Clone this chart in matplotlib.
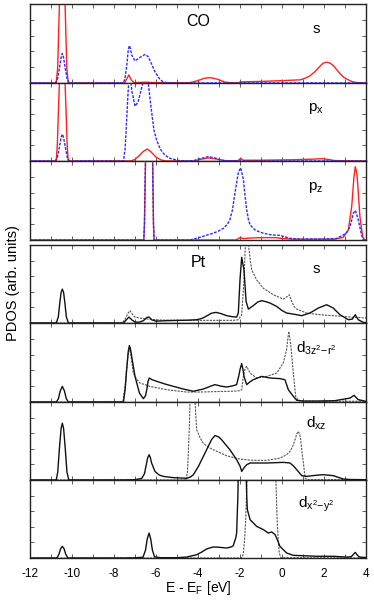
import numpy as np
import matplotlib
matplotlib.use("Agg")
import matplotlib.pyplot as plt
from matplotlib.ticker import FixedLocator

plt.rcParams['font.family'] = ['Liberation Sans', 'DejaVu Sans']
plt.rcParams['mathtext.fontset'] = 'custom'
plt.rcParams['mathtext.rm'] = 'Liberation Sans'
plt.rcParams['mathtext.it'] = 'Liberation Sans'

# ---------------- data (energy in eV, PDOS in arb. units) ----------------
co_s_red = [(-12,0),(-10.75,0),(-10.68,1),(-10.63,3.5),(-10.60,5),(-10.55,9),(-10.47,12),(-10.38,9),(-10.33,5),
            (-10.30,3.5),(-10.25,1),(-10.18,0),(-7.5,0),(-7.42,0.2),(-7.29,0.51),(-7.18,0.2),(-7.05,0.02),(-6.5,0.05),
            (-6.0,0.02),(-4.4,0.02),(-4.0,0.15),(-3.7,0.3),(-3.43,0.34),(-3.1,0.25),(-2.7,0.05),(-2.3,0.01),(-2.05,0.01),
            (-2.0,0.07),(-1.0,0.1),(0.0,0.15),(0.86,0.2),(1.1,0.3),(1.33,0.45),(1.55,0.7),(1.73,0.95),(1.95,1.25),
            (2.13,1.32),(2.3,1.25),(2.44,1.1),(2.6,0.85),(2.76,0.6),(2.95,0.35),(3.16,0.2),(3.35,0.08),(3.56,0.03),(4,0)]
co_s_blue = [(-12,0),(-10.8,0),(-10.7,0.2),(-10.6,0.9),(-10.52,1.6),(-10.46,1.87),(-10.40,1.6),(-10.32,0.9),(-10.22,0.2),
             (-10.12,0),(-7.55,0),(-7.48,0.3),(-7.40,1.0),(-7.32,2.1),(-7.27,2.36),(-7.22,2.2),(-7.16,1.77),(-7.0,1.40),
             (-6.76,1.62),(-6.52,1.81),(-6.37,1.66),(-6.21,1.2),(-6.05,0.7),(-5.81,0.23),(-5.65,0.06),(-5.4,0),(4,0)]
co_px_red = [(-12,0),(-10.75,0),(-10.70,1),(-10.64,3.5),(-10.60,5),(-10.55,9),(-10.47,12),(-10.38,9),(-10.33,5),
             (-10.29,3.5),(-10.23,1),(-10.18,0),(-7.2,0),(-7.0,0.1),(-6.8,0.35),(-6.6,0.62),(-6.41,0.77),(-6.25,0.6),
             (-6.0,0.25),(-5.75,0.06),(-5.5,0),(-4.2,0),(-3.9,0.1),(-3.5,0.2),(-3.1,0.12),(-2.7,0.02),(-2.1,0.02),
             (-1.97,0.17),(-1.85,0.05),(-1.0,0.05),(0.5,0.08),(1.5,0.12),(1.9,0.15),(2.2,0.1),(2.5,0.03),(3.0,0.01),(4,0)]
co_px_blue = [(-12,0),(-10.8,0),(-10.7,0.2),(-10.6,0.9),(-10.52,1.5),(-10.46,1.72),(-10.40,1.5),(-10.32,0.9),(-10.22,0.2),
              (-10.12,0),(-7.55,0),(-7.47,0.8),(-7.43,1.77),(-7.35,3.9),(-7.29,5.3),(-7.24,5.5),(-7.15,4.5),(-7.0,3.51),
              (-6.85,3.8),(-6.7,4.6),(-6.55,5.4),(-6.45,5.5),(-6.37,5.0),(-6.25,3.6),(-6.1,2.0),(-5.97,1.34),(-5.81,0.8),
              (-5.65,0.49),(-5.4,0.2),(-5.17,0.11),(-4.9,0.03),(-4.5,0),(-4.2,0.03),(-3.9,0.15),(-3.51,0.28),(-3.2,0.2),
              (-2.9,0.05),(-2.6,0),(4,0)]
co_pz_red = [(-12,0),(-6.58,0),(-6.55,1),(-6.50,5),(-6.45,9),(-6.33,12),(-6.21,9),(-6.16,5),(-6.12,1),(-6.09,0),
             (-2.2,0),(-2.05,0.1),(-1.97,0.17),(-1.85,0.08),(-1.6,0.12),(-1.0,0.15),(-0.3,0.15),(0.0,0.1),(0.5,0.05),
             (2.5,0.05),(2.92,0.17),(3.16,0.64),(3.32,2.13),(3.43,4.04),(3.49,4.64),(3.55,4.3),(3.59,3.83),(3.71,1.49),
             (3.84,0.21),(3.94,0),(4,0)]
co_pz_blue = [(-12,0),(-6.58,0),(-6.55,1),(-6.50,5),(-6.45,9),(-6.33,12),(-6.21,9),(-6.16,5),(-6.12,1),(-6.09,0),
              (-4.4,0),(-4.22,0.05),(-3.9,0.17),(-3.6,0.3),(-3.27,0.43),(-3.0,0.58),(-2.79,0.74),(-2.6,1.0),(-2.48,1.28),
              (-2.36,1.9),(-2.24,2.98),(-2.08,4.26),(-1.97,4.57),(-1.84,3.83),(-1.76,2.8),(-1.68,1.91),(-1.6,1.3),
              (-1.52,0.96),(-1.29,0.64),(-1.05,0.5),(-0.89,0.43),(-0.6,0.35),(-0.3,0.3),(-0.1,0.3),(0.13,0.2),(0.4,0.1),
              (0.86,0.06),(2.0,0.06),(2.6,0.1),(2.92,0.32),(3.1,0.5),(3.24,0.85),(3.40,1.7),(3.49,1.87),(3.56,1.6),
              (3.63,1.28),(3.71,0.8),(3.79,0.32),(3.87,0),(4,0)]

pt_s_solid = [(-12,0),(-10.75,0),(-10.65,0.4),(-10.58,1.3),(-10.52,1.95),(-10.46,2.17),(-10.40,1.95),(-10.34,1.3),
              (-10.27,0.4),(-10.17,0),(-7.55,0),(-7.45,0.15),(-7.29,0.38),(-7.15,0.2),(-7.0,0.06),(-6.8,0.05),(-6.6,0.15),
              (-6.43,0.36),(-6.33,0.38),(-6.2,0.2),(-6.0,0.12),(-5.49,0.15),(-4.5,0.18),(-4.06,0.21),(-3.8,0.3),
              (-3.59,0.45),(-3.35,0.63),(-3.14,0.68),(-2.9,0.6),(-2.63,0.47),(-2.35,0.4),(-2.16,0.38),(-2.08,0.64),
              (-2.0,2.77),(-1.92,4.21),(-1.81,3.4),(-1.71,1.38),(-1.6,0.89),(-1.37,1.11),(-1.15,1.35),(-0.97,1.43),
              (-0.75,1.36),(-0.57,1.28),(-0.25,1.06),(0.0,0.8),(0.22,0.64),(0.54,0.57),(0.94,0.47),(1.33,0.64),
              (1.73,0.96),(2.13,1.17),(2.44,0.96),(2.76,0.53),(3.16,0.21),(3.35,0.25),(3.49,0.53),(3.63,0.21),
              (3.87,0.04),(4,0.02)]
pt_s_dash = [(-12,0),(-7.6,0),(-7.45,0.3),(-7.32,0.65),(-7.24,0.79),(-7.12,0.55),(-7.0,0.38),(-6.7,0.3),(-6.44,0.26),
             (-5.81,0.19),(-4.54,0.17),(-3.11,0.17),(-2.32,0.17),(-2.08,0.21),(-1.92,0.53),(-1.81,2.77),(-1.76,4.5),
             (-1.72,5.5),(-1.65,5.6),(-1.58,4.8),(-1.5,3.9),(-1.44,3.4),(-1.21,2.77),(-0.89,2.23),(-0.41,1.81),
             (0.06,1.53),(0.25,1.70),(0.35,1.81),(0.46,1.38),(0.58,1.05),(0.70,0.89),(1.17,0.64),(1.81,0.53),
             (2.44,0.47),(3.24,0.38),(4.0,0.32)]
pt_d3z2_solid = [(-12,0),(-10.75,0),(-10.65,0.2),(-10.56,0.7),(-10.46,0.99),(-10.36,0.7),(-10.27,0.2),(-10.17,0),
                 (-7.55,0),(-7.47,0.8),(-7.40,2.05),(-7.32,3.2),(-7.27,3.57),(-7.22,3.4),(-7.16,2.89),(-7.0,1.62),
                 (-6.79,0.57),(-6.6,0.21),(-6.5,0.4),(-6.44,0.78),(-6.38,1.3),(-6.32,1.52),(-6.2,1.42),(-5.97,1.31),
                 (-5.6,1.15),(-5.17,0.99),(-4.7,0.82),(-4.22,0.68),(-3.75,0.82),(-3.4,1.0),(-3.19,1.1),(-2.9,1.0),
                 (-2.63,0.95),(-2.35,1.02),(-2.16,1.1),(-2.05,1.7),(-2.0,2.05),(-1.92,2.43),(-1.85,2.0),(-1.81,1.62),
                 (-1.68,1.1),(-1.55,1.25),(-1.37,1.41),(-0.97,1.62),(-0.57,1.52),(-0.10,1.48),(0.14,1.41),(0.30,0.78),
                 (0.54,0.36),(0.70,0.11),(1.0,0.06),(1.65,0.06),(2.5,0.08),(3.24,0.25),(3.43,0.42),(3.63,0.15),(4.0,0.04)]
pt_d3z2_dash = [(-12,0),(-7.58,0),(-7.45,1.2),(-7.32,3.1),(-7.27,3.42),(-7.2,3.0),(-7.08,1.83),(-6.9,1.4),(-6.76,1.2),
                (-6.29,0.99),(-5.49,0.78),(-4.54,0.63),(-3.90,0.63),(-3.11,0.66),(-2.32,0.68),(-1.98,0.72),(-1.92,0.78),
                (-1.84,1.62),(-1.76,2.1),(-1.68,2.26),(-1.52,1.83),(-1.21,1.52),(-0.73,1.62),(-0.25,1.83),(0.06,2.47),
                (0.22,3.31),(0.32,4.47),(0.41,3.73),(0.54,1.83),(0.65,0.36),(0.78,0.1),(1.2,0.05),(4.0,0.05)]
pt_dxz_solid = [(-12,0),(-10.75,0),(-10.68,0.5),(-10.6,2.0),(-10.52,3.3),(-10.46,3.64),(-10.40,3.3),(-10.32,2.0),
                (-10.24,0.5),(-10.15,0),(-7.5,0),(-7.0,0.02),(-6.68,0.1),(-6.55,0.4),(-6.48,0.87),(-6.40,1.4),
                (-6.33,1.62),(-6.27,1.45),(-6.21,1.09),(-6.05,0.55),(-5.85,0.32),(-5.65,0.23),(-5.17,0.15),(-4.54,0.11),
                (-4.35,0.2),(-4.22,0.34),(-3.98,0.87),(-3.59,1.94),(-3.35,2.6),(-3.19,2.85),(-3.0,2.75),(-2.87,2.57),
                (-2.48,1.94),(-2.16,1.3),(-2.0,0.9),(-1.92,0.55),(-1.8,0.8),(-1.68,0.98),(-1.52,1.09),(-0.73,1.09),
                (0.06,1.13),(0.38,1.09),(0.55,0.9),(0.70,0.66),(0.94,0.28),(1.17,0.23),(1.6,0.3),(1.97,0.34),
                (2.44,0.28),(2.92,0.06),(3.3,0.03),(4.0,0.02)]
pt_dxz_dash = [(-12,0),(-4.56,0),(-4.5,0.6),(-4.46,1.72),(-4.41,3.5),(-4.38,5.0),(-4.33,6),(-4.25,6.2),(-4.16,5.5),
               (-4.10,4.0),(-4.06,3.21),(-3.9,2.7),(-3.75,2.36),(-3.5,2.1),(-3.27,1.94),(-2.63,1.55),(-2.0,1.34),
               (-1.37,1.26),(-0.73,1.26),(-0.10,1.40),(0.2,1.6),(0.38,1.83),(0.52,2.2),(0.62,2.57),(0.7,2.95),
               (0.78,3.11),(0.85,2.9),(0.89,2.57),(0.95,1.8),(1.02,1.09),(1.1,0.13),(1.2,0.02),(4.0,0.02)]
pt_dx2y2_solid = [(-12,0),(-10.72,0),(-10.62,0.25),(-10.54,0.6),(-10.46,0.75),(-10.38,0.6),(-10.30,0.25),(-10.2,0),
                  (-7.5,0),(-7.0,0.01),(-6.62,0.05),(-6.5,0.5),(-6.42,1.2),(-6.33,1.6),(-6.25,1.2),(-6.17,0.5),
                  (-6.07,0.08),(-5.8,0.02),(-5.0,0.02),(-4.54,0.06),(-4.06,0.21),(-3.8,0.4),(-3.59,0.58),(-3.3,0.7),
                  (-3.11,0.7),(-2.63,0.64),(-2.4,0.72),(-2.32,0.79),(-2.2,1.3),(-2.16,1.6),(-2.1,4),(-2.08,5.5),
                  (-1.95,7),(-1.8,6.5),(-1.71,5.5),(-1.68,4),(-1.65,3.1),(-1.52,2.46),(-1.21,2.03),(-0.89,1.82),
                  (-0.65,1.6),(-0.49,1.67),(-0.33,1.5),(-0.2,1.1),(-0.1,0.75),(0.22,0.32),(0.54,0.17),(1.65,0.11),
                  (2.44,0.11),(3.08,0.06),(3.3,0.08),(3.41,0.25),(3.49,0.36),(3.58,0.2),(3.68,0.06),(4.0,0.03)]
pt_dx2y2_dash = [(-12,0),(-1.95,0),(-1.88,0.1),(-1.84,0.32),(-1.78,1.2),(-1.73,2.46),(-1.69,4.0),(-1.65,5.5),
                 (-1.55,6.5),(-1.0,6.5),(-0.5,6.5),(-0.33,6.0),(-0.29,5.0),(-0.25,3.2),(-0.22,2.03),(-0.17,1.0),
                 (-0.13,0.32),(-0.05,0.02),(4.0,0)]

panel_labels = ['s', r'p$_{\rm x}$', r'p$_{\rm z}$', 's', r'd$_{\rm 3z^2\!-\!r^2}$', r'd$_{\rm xz}$', r'd$_{\rm x^2\!-\!y^2}$']
x_ticks = list(range(-12, 5))
x_ticklabels = [str(t) if t % 2 == 0 else '' for t in x_ticks]
y_ticks = [1, 2, 3, 4]

# ---------------- layout ----------------
W, H = 374, 601
fig = plt.figure(figsize=(W/100, H/100), dpi=100)
left, right = 30, 366
panel_px = [(4, 83), (83, 161), (161, 240), (245, 323), (323, 402), (402, 480), (480, 558)]
label_y = [3.15, 3.19, 3.15, 3.19, 3.1, 3.38, 3.26]

RED = '#ff2020'
BLUE = '#2b2bff'
BLACK = '#111111'
GRAY = '#555555'

co_data = [(co_s_red, co_s_blue), (co_px_red, co_px_blue), (co_pz_red, co_pz_blue)]
pt_data = [(pt_s_solid, pt_s_dash), (pt_d3z2_solid, pt_d3z2_dash), (pt_dxz_solid, pt_dxz_dash),
           (pt_dx2y2_solid, pt_dx2y2_dash)]

axes = []
for i, (top, bot) in enumerate(panel_px):
    ax = fig.add_axes([left/W, 1 - bot/H, (right-left)/W, (bot-top)/H])
    axes.append(ax)
    if i < 3:
        solid, dash = co_data[i]
        a = np.array(solid); b = np.array(dash)
        ax.plot(a[:, 0], a[:, 1], color=RED, lw=1.0, zorder=2)
        ax.plot(b[:, 0], b[:, 1], color=BLUE, lw=1.0, ls=(0, (2, 1)), zorder=3)
    else:
        solid, dash = pt_data[i-3]
        a = np.array(solid); b = np.array(dash)
        ax.plot(b[:, 0], b[:, 1], color=GRAY, lw=0.8, ls=(0, (2, 1)), zorder=2)
        ax.plot(a[:, 0], a[:, 1], color=BLACK, lw=1.0, zorder=3)
    ax.set_xlim(-12, 4)
    ax.set_ylim(0, 5)
    ax.set_yticks(y_ticks)
    ax.set_yticklabels([])
    ax.xaxis.set_major_locator(FixedLocator(x_ticks))
    if i == len(panel_px) - 1:
        ax.set_xticklabels(x_ticklabels, fontsize=8.5)
    else:
        ax.set_xticklabels([])
    ax.tick_params(direction='in', length=3, width=0.6, colors='#444444', top=True, right=True,
                   labelcolor='black', pad=7)
    for sp in ax.spines.values():
        sp.set_color('#222222')
        sp.set_linewidth(1.0)
    ax.text(1.62, label_y[i], panel_labels[i], ha='center', va='baseline', fontsize=11)

axes[0].text(-4.0, 3.92, 'CO', ha='center', va='center', fontsize=11.5)
axes[3].text(-4.0, 3.9, 'Pt', ha='center', va='center', fontsize=11.5)

fig.text(13/W, 1 - 283/H, 'PDOS (arb. units)', rotation=90, ha='center', va='center', fontsize=10.5)
fig.text((left+right)/2/W, 1 - 592/H, r'E - E$_{\rm F}$ [eV]', ha='center', va='baseline', fontsize=10)

fig.savefig('out.png', dpi=100)
